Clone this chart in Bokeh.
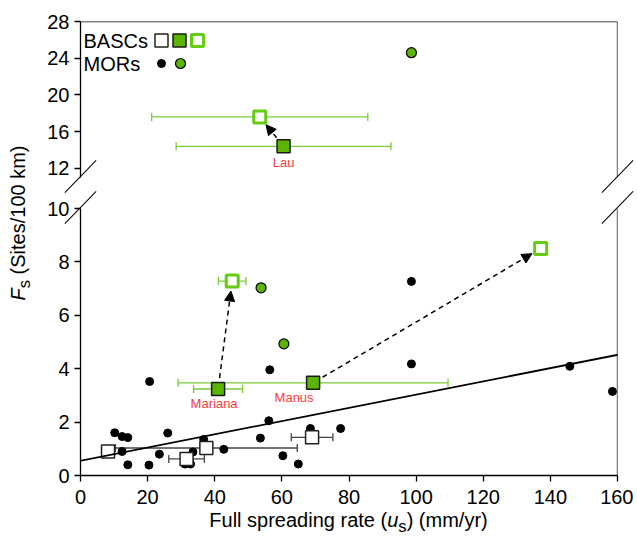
import math

from bokeh.plotting import figure
from bokeh.layouts import row, column
from bokeh.models import (ColumnDataSource, Whisker, TeeHead, Arrow, NormalHead,
                          Label, Span, Slope, FixedTicker, Div, Range1d)
from bokeh.embed import file_html
from bokeh.resources import INLINE

# ---- data ----
# BASCs, no correction (open black squares)
basc_raw_u = [8.2, 31.6, 37.5, 69.0]
basc_raw_f = [0.90, 0.62, 1.03, 1.43]
basc_raw_uerr = [0.0, 5.3, 27.1, 6.2]

# BASCs named sites (filled green squares) and their corrected values (open green squares)
site_names = ["Lau", "Mariana", "Manus"]
site_u = [60.5, 41.0, 69.3]
site_f = [14.4, 3.24, 3.47]
site_uerr = [32.0, 7.3, 40.2]
site_adj_u = [53.4, 45.2, 137.1]
site_adj_f = [17.6, 7.28, 8.50]
site_adj_uerr = [32.2, 4.1, 0.0]

# MORs (black dots)
mor_u = [10.2, 12.4, 14.1, 26.0, 12.4, 14.1, 20.4, 23.5, 36.7, 33.5, 31.1, 32.8, 42.7,
         20.6, 56.4, 56.1, 53.6, 60.3, 64.9, 68.5, 77.5, 98.6, 98.6, 145.8, 158.5]
mor_f = [1.60, 1.46, 1.42, 1.59, 0.90, 0.40, 0.39, 0.80, 1.35, 0.88, 0.43, 0.43, 0.98,
         3.52, 3.96, 2.05, 1.40, 0.74, 0.43, 1.76, 1.76, 7.27, 4.18, 4.09, 3.15]

# MORs (green circles)
mor_g_u = [98.6, 53.8, 60.6]
mor_g_f = [24.6, 7.03, 4.93]

# regression line for MORs
fit_intercept = 0.55
fit_slope = 0.0248

x_ticks = [0, 20, 40, 60, 80, 100, 120, 140, 160]
y_ticks_low = [0, 2, 4, 6, 8, 10]
y_ticks_up = [12, 16, 20, 24, 28]

# ---- layout / style ----
X_MAX = 160
UP_LO, UP_HI = 11, 28
LO_LO, LO_HI = 0, 10
YDIV_W = 38
BORDER_L, BORDER_R = 42, 16
FRAME_W = 537
UP_TOP, UP_H, UP_BOT = 21, 156, 15
LO_TOP, LO_H, LO_BOT = 16, 267, 40
FIG_W = BORDER_L + FRAME_W + BORDER_R
SX = FRAME_W / X_MAX
SY_UP = UP_H / (UP_HI - UP_LO)
SY_LO = LO_H / (LO_HI - LO_LO)

FONT = "Liberation Sans"
GREEN = "#5cb400"
GREEN_LINE = "#66cc11"
GREEN_BAR = "#7acc3a"
GREY_BAR = "#444444"
RED = "#ff3b3b"

label_offsets = {"Lau": (0, -16), "Mariana": (-4, -15), "Manus": (-19, -15)}

x_range = Range1d(0, X_MAX)


def make_fig(y_lo, y_hi, frame_h, ticks, top, bottom, show_x):
    p = figure(x_range=x_range, y_range=Range1d(y_lo, y_hi),
               frame_width=FRAME_W, frame_height=frame_h,
               output_backend="svg", toolbar_location=None,
               x_axis_location="below" if show_x else None,
               min_border_left=BORDER_L, min_border_right=BORDER_R,
               min_border_top=top, min_border_bottom=bottom)
    p.outline_line_color = None
    p.border_fill_color = None
    p.background_fill_color = None
    p.grid.visible = False
    for ax in p.axis:
        ax.axis_line_width = 1.3
        ax.axis_line_color = "black"
        ax.major_tick_line_width = 1.3
        ax.major_tick_line_color = "black"
        ax.major_tick_out = 6
        ax.major_tick_in = 0
        ax.minor_tick_line_color = None
        ax.major_label_text_font = FONT
        ax.major_label_text_font_size = "20px"
        ax.major_label_text_color = "black"
    p.yaxis.ticker = FixedTicker(ticks=ticks)
    p.yaxis.major_label_standoff = 5
    if show_x:
        p.xaxis.ticker = FixedTicker(ticks=x_ticks)
        p.xaxis.major_label_standoff = 8
    # right spine
    p.add_layout(Span(location=X_MAX, dimension="height", line_color="black", line_width=1.3))
    return p


def pick(us, fs, errs, upper):
    keep = [i for i, f in enumerate(fs) if (f > LO_HI) == upper]
    return ([us[i] for i in keep], [fs[i] for i in keep],
            [errs[i] for i in keep] if errs is not None else None)


def add_xerr(p, us, fs, errs, color):
    rows = [(u, f, e) for u, f, e in zip(us, fs, errs) if e > 0]
    if not rows:
        return
    src = ColumnDataSource(dict(base=[r[1] for r in rows],
                                lower=[r[0] - r[2] for r in rows],
                                upper=[r[0] + r[2] for r in rows]))
    p.add_layout(Whisker(base="base", lower="lower", upper="upper", dimension="width",
                         source=src, line_color=color, line_width=1.3, level="underlay",
                         lower_head=TeeHead(size=8, line_color=color, line_width=1.3),
                         upper_head=TeeHead(size=8, line_color=color, line_width=1.3)))


def draw_panel(p, upper, sy):
    u, f, e = pick(basc_raw_u, basc_raw_f, basc_raw_uerr, upper)
    add_xerr(p, u, f, e, GREY_BAR)
    su, sf, se = pick(site_u, site_f, site_uerr, upper)
    add_xerr(p, su, sf, se, GREEN_BAR)
    au, af, ae = pick(site_adj_u, site_adj_f, site_adj_uerr, upper)
    add_xerr(p, au, af, ae, GREEN_BAR)

    if not upper:
        p.add_layout(Slope(gradient=fit_slope, y_intercept=fit_intercept,
                           line_color="black", line_width=1.8))

    mu, mf, _ = pick(mor_u, mor_f, None, upper)
    p.scatter(mu, mf, size=8, color="black")
    gu, gf, _ = pick(mor_g_u, mor_g_f, None, upper)
    p.scatter(gu, gf, size=10, fill_color=GREEN, line_color="black", line_width=1.2)
    p.scatter(u, f, marker="square", size=13, fill_color="white",
              line_color="#222222", line_width=1.5)

    # arrows from measured to corrected values
    for name, x0, y0, x1, y1 in zip(site_names, site_u, site_f, site_adj_u, site_adj_f):
        if (y0 > LO_HI) != upper:
            continue
        dx, dy = (x1 - x0) * SX, (y1 - y0) * sy
        d = math.hypot(dx, dy)
        ux, uy = dx / d, dy / d
        p.add_layout(Arrow(start=None,
                           end=NormalHead(size=10, fill_color="black", line_color="black"),
                           x_start=x0 + ux * 11 / SX, y_start=y0 + uy * 11 / sy,
                           x_end=x1 - ux * 10 / SX, y_end=y1 - uy * 10 / sy,
                           line_color="black", line_width=1.5, line_dash="5 4"))
        ox, oy = label_offsets[name]
        p.add_layout(Label(x=x0, y=y0, x_offset=ox, y_offset=oy, text=name,
                           text_align="center", text_baseline="middle",
                           text_font=FONT, text_font_size="13px", text_color=RED))

    p.scatter(su, sf, marker="square", size=13, fill_color=GREEN,
              line_color="#1a1a1a", line_width=1.5)
    p.scatter(au, af, marker="square", size=12, fill_color="white",
              line_color=GREEN_LINE, line_width=3)


upper = make_fig(UP_LO, UP_HI, UP_H, y_ticks_up, UP_TOP, UP_BOT, False)
upper.add_layout(Span(location=UP_HI, dimension="width", line_color="black", line_width=1.3))
draw_panel(upper, True, SY_UP)

lower = make_fig(LO_LO, LO_HI, LO_H, y_ticks_low, LO_TOP, LO_BOT, True)
draw_panel(lower, False, SY_LO)


# legend, placed in pixels from the top-left corner of the upper frame
def legend_xy(dx, dy):
    return dx / SX, UP_HI - dy / SY_UP


for text, dy in (("BASCs", 19), ("MORs", 42)):
    lx, ly = legend_xy(3, dy)
    upper.add_layout(Label(x=lx, y=ly, text=text, text_align="left", text_baseline="middle",
                           text_font=FONT, text_font_size="20px", text_color="black"))

sq = [legend_xy(dx, 19) for dx in (81, 99, 117)]
upper.scatter([sq[0][0]], [sq[0][1]], marker="square", size=13, fill_color="white",
              line_color="#222222", line_width=1.5)
upper.scatter([sq[1][0]], [sq[1][1]], marker="square", size=13, fill_color=GREEN,
              line_color="#1a1a1a", line_width=1.5)
upper.scatter([sq[2][0]], [sq[2][1]], marker="square", size=12, fill_color="white",
              line_color=GREEN_LINE, line_width=3)
ci = [legend_xy(dx, 42) for dx in (81, 100)]
upper.scatter([ci[0][0]], [ci[0][1]], size=8, color="black")
upper.scatter([ci[1][0]], [ci[1][1]], size=10, fill_color=GREEN, line_color="black",
              line_width=1.2)

# axis-break slashes, drawn as an HTML overlay (the figure canvases are transparent)
frame_left = YDIV_W + BORDER_L
frame_right = frame_left + FRAME_W
break_up = UP_TOP + UP_H
break_lo = UP_TOP + UP_H + UP_BOT + LO_TOP
slashes = ""
for cx in (frame_left, frame_right):
    for cy in (break_up, break_lo):
        slashes += (f'<div style="position:absolute;left:{cx - 22.5:.1f}px;top:{cy - 0.6:.1f}px;'
                    'width:45px;height:0;border-top:1.3px solid black;'
                    'transform:rotate(-46deg);"></div>')

ytitle = Div(text=('<div style="position:relative;width:38px;height:500px;overflow:visible;">'
                   + slashes +
                   '<div style="position:absolute;left:20px;top:223px;'
                   'transform:translate(-50%,-50%) rotate(-90deg);white-space:nowrap;'
                   "font-family:'Liberation Sans';font-size:20px;color:black;\">"
                   '<i>F</i><sub>s</sub> (Sites/100 km)</div></div>'),
             width=YDIV_W, height=500, margin=0, styles={"overflow": "visible", "z-index": "5"})
xtitle = Div(text=(f'<div style="position:relative;width:{FIG_W}px;height:20px;overflow:visible;">'
                   f'<div style="position:absolute;left:{BORDER_L + FRAME_W / 2:.1f}px;top:8px;'
                   'transform:translate(-50%,-50%);white-space:nowrap;line-height:1.1;'
                   "font-family:'Liberation Sans';font-size:20px;color:black;\">"
                   'Full spreading rate (<i>u</i><sub>s</sub>) (mm/yr)</div></div>'),
             width=FIG_W, height=20, margin=0, styles={"overflow": "visible"})

layout = row(ytitle, column(upper, lower, xtitle))

open("out.html", "w").write(file_html(layout, INLINE))
